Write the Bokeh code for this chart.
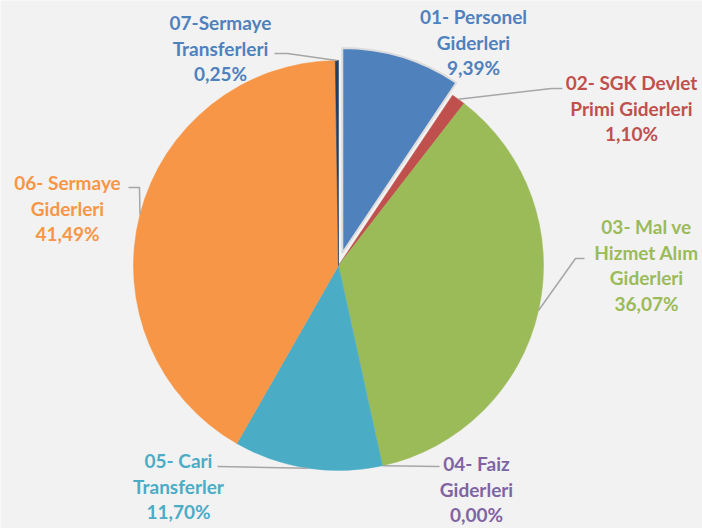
import math
from bokeh.plotting import figure
from bokeh.models import Range1d
from bokeh.core.properties import value
from bokeh.embed import file_html
from bokeh.resources import INLINE

# ---- data ----
names = ["01- Personel\nGiderleri", "02- SGK Devlet\nPrimi Giderleri",
         "03- Mal ve\nHizmet Alım\nGiderleri", "04- Faiz\nGiderleri",
         "05- Cari\nTransferler", "06- Sermaye\nGiderleri",
         "07-Sermaye\nTransferleri"]
shares = [9.39, 1.10, 36.07, 0.00, 11.70, 41.49, 0.25]
colors = ["#4F81BD", "#C0504D", "#9BBB59", "#8064A2", "#4BACC6", "#F79646", "#1F3F66"]
label_colors = ["#4F81BD", "#C0504D", "#9BBB59", "#8064A2", "#4BACC6", "#F79646", "#4F81BD"]

# ---- layout (page pixel coordinates) ----
W, H = 702, 528
CX, CY, R = 338, 265, 205
EXPLODE = [13, 0, 0, 0, 0, 0, 0]
label_pos = [(473, 16), (631, 82), (646, 226), (476, 463), (178, 460), (67, 182), (220, 22)]
LINE_H = 25.5
leader_pts = [None, [(551, 88), (562, 88)], [(575, 258), (584, 258)], [(439, 466)],
              [(217, 466)], [(139, 187), (128, 187)], [(287, 53), (274, 53)]]


def X(px):
    return px


def Y(py):
    return H - py


p = figure(width=W, height=H, output_backend="svg", toolbar_location=None,
           x_range=Range1d(0, W), y_range=Range1d(0, H),
           min_border=0)
p.axis.visible = False
p.grid.visible = False
p.outline_line_color = None
p.background_fill_color = "#F2F2F2"
p.border_fill_color = "#F2F2F2"

total = sum(shares)
cum = 0.0
for i, v in enumerate(shares):
    a0 = cum / total * 2 * math.pi
    cum += v
    a1 = cum / total * 2 * math.pi
    mid = (a0 + a1) / 2
    ox = EXPLODE[i] * math.sin(mid)
    oy = -EXPLODE[i] * math.cos(mid)
    if v > 0:
        p.wedge(x=[X(CX + ox)], y=[Y(CY + oy)], radius=R,
                start_angle=math.pi / 2 - a0, end_angle=math.pi / 2 - a1,
                direction="clock", fill_color=colors[i],
                line_color="#DCDCDC" if EXPLODE[i] else colors[i],
                line_width=2 if EXPLODE[i] else 0.5)
    # leader line
    if leader_pts[i]:
        sx = CX + R * math.sin(mid)
        sy = CY - R * math.cos(mid)
        pts = [(sx, sy)] + leader_pts[i]
        p.line([X(a) for a, b in pts], [Y(b) for a, b in pts],
               line_color="#A6A6A6", line_width=1.5)
    # label
    lines = names[i].split("\n") + [f"{v:.2f}".replace(".", ",") + "%"]
    lx, ly = label_pos[i]
    for k, t in enumerate(lines):
        p.text(x=[X(lx)], y=[Y(ly + k * LINE_H)], text=[t],
               text_font=value("Lato"), text_font_style="bold",
               text_font_size="19px", text_color=label_colors[i],
               text_align="center", text_baseline="middle")

open("out.html", "w").write(file_html(p, INLINE))
